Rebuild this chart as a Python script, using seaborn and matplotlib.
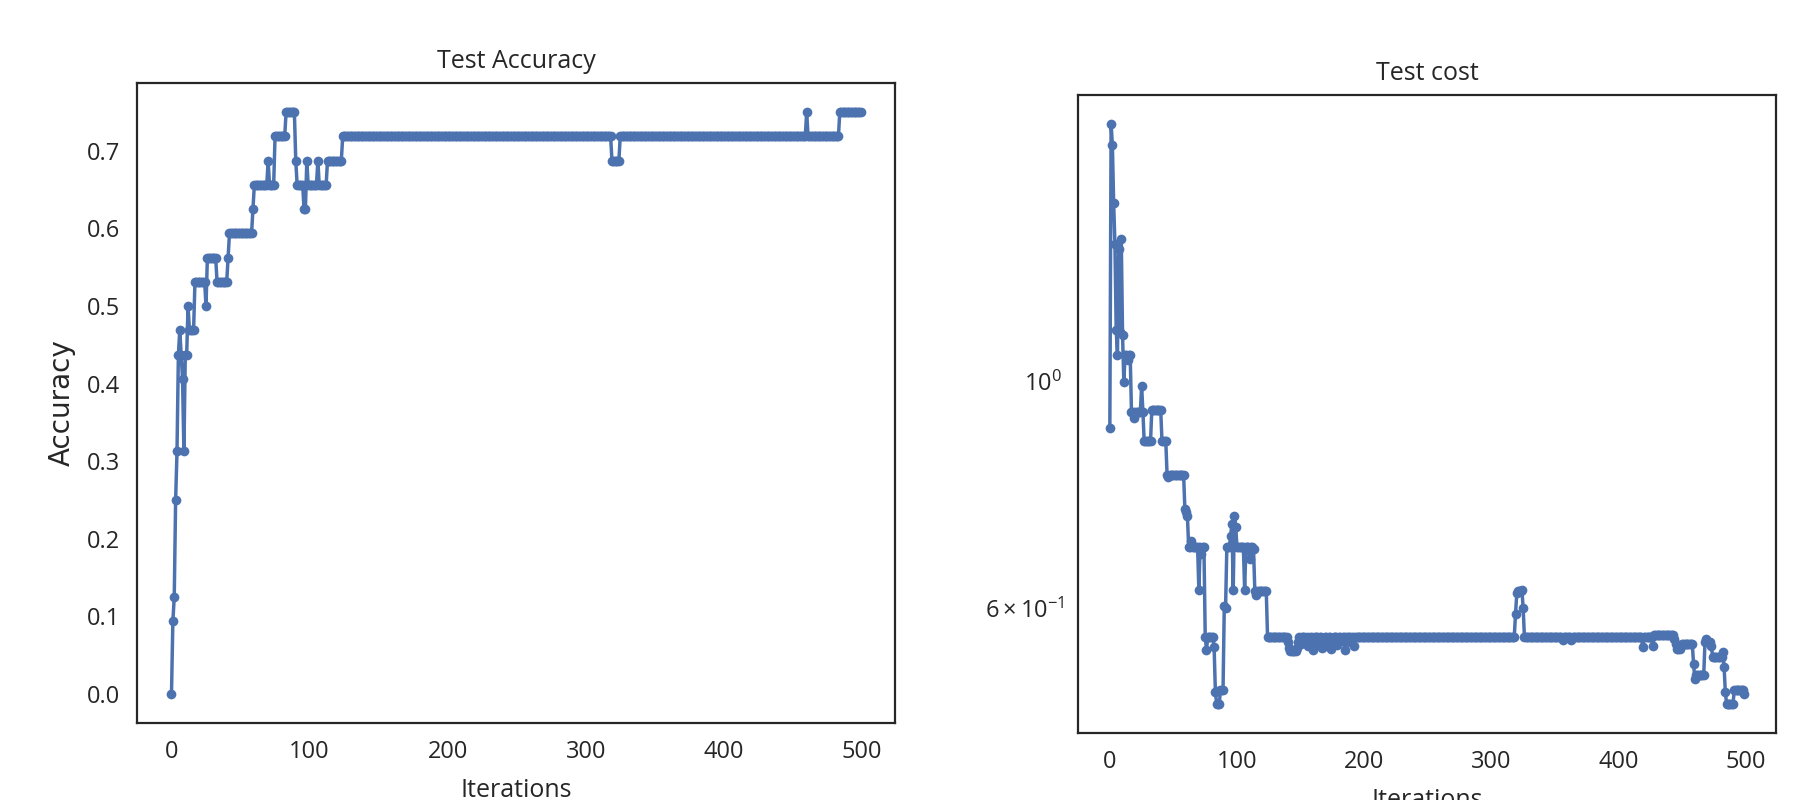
import numpy as np
import pandas as pd
import matplotlib
matplotlib.use("Agg")
import matplotlib.pyplot as plt
import seaborn as sns

# ---------------- data (run-length encoded step series) ----------------
acc_values = [0.0, 0.09375, 0.125, 0.25, 0.3125, 0.4375, 0.46875, 0.4375, 0.40625, 0.3125,
              0.4375, 0.5, 0.46875, 0.53125, 0.5, 0.5625, 0.53125, 0.5625, 0.59375, 0.625,
              0.65625, 0.6875, 0.65625, 0.71875, 0.75, 0.6875, 0.65625, 0.625, 0.6875, 0.65625,
              0.6875, 0.65625, 0.6875, 0.71875, 0.6875, 0.71875, 0.75, 0.71875, 0.75]
acc_counts = [1, 1, 1, 1, 1, 1, 1, 1, 1, 1,
              2, 1, 4, 8, 1, 7, 8, 1, 17, 1,
              10, 1, 4, 8, 7, 1, 5, 2, 1, 7,
              1, 6, 11, 195, 6, 135, 1, 23, 16]

cost_values = [0.900, 1.790, 1.708, 1.498, 1.364, 1.124, 1.063, 1.350, 1.120, 1.379,
               1.111, 1.000, 1.063, 1.050, 1.063, 0.935, 0.922, 0.935, 0.990, 0.935,
               0.874, 0.939, 0.874, 0.811, 0.806, 0.811, 0.750, 0.745, 0.738, 0.688,
               0.698, 0.688, 0.625, 0.688, 0.678, 0.688, 0.562, 0.546, 0.562, 0.549,
               0.496, 0.483, 0.498, 0.603, 0.600, 0.688, 0.706, 0.726, 0.625, 0.738,
               0.720, 0.688, 0.625, 0.688, 0.670, 0.688, 0.685, 0.624, 0.618, 0.624,
               0.562,
               0.555, 0.548, 0.545, 0.548, 0.556, 0.562, 0.553, 0.562, 0.556, 0.562,
               0.550, 0.562, 0.557, 0.562, 0.546, 0.562, 0.553, 0.562, 0.548, 0.556,
               0.562, 0.551, 0.562, 0.547, 0.558, 0.562, 0.552, 0.562, 0.557, 0.562,
               0.546, 0.562, 0.556, 0.562, 0.551,
               0.562, 0.592, 0.620, 0.623, 0.625, 0.600, 0.562, 0.558, 0.562, 0.558,
               0.562, 0.549, 0.562, 0.550, 0.564, 0.560, 0.553, 0.547, 0.551, 0.553,
               0.529, 0.511, 0.516, 0.556, 0.559, 0.555, 0.551, 0.537, 0.543, 0.525,
               0.496, 0.483, 0.498, 0.494]
cost_counts = [1, 1, 1, 1, 1, 1, 1, 1, 1, 1,
               1, 1, 2, 1, 2, 2, 1, 5, 1, 1,
               6, 8, 4, 1, 1, 12, 1, 1, 1, 2,
               1, 5, 1, 1, 1, 2, 1, 1, 5, 1,
               1, 3, 3, 1, 1, 3, 1, 1, 1, 1,
               1, 6, 1, 3, 1, 2, 1, 1, 1, 8,
               16,
               1, 1, 5, 1, 1, 1, 1, 3, 1, 1,
               1, 1, 1, 1, 1, 3, 1, 2, 1, 1,
               2, 1, 2, 1, 1, 3, 1, 2, 1, 2,
               1, 3, 1, 2, 1,
               126, 1, 1, 3, 1, 1, 30, 1, 6, 1,
               55, 1, 7, 1, 16, 1, 1, 3, 1, 9,
               1, 1, 7, 1, 1, 3, 1, 8, 1, 1,
               1, 6, 8, 1]

accuracy = np.repeat(acc_values, acc_counts)
cost = np.repeat(cost_values, cost_counts)
assert len(accuracy) == 500, len(accuracy)
assert len(cost) == 500, len(cost)
iterations = np.arange(len(accuracy))

df_acc = pd.DataFrame({"Iterations": iterations, "Accuracy": accuracy})
df_cost = pd.DataFrame({"Iterations": iterations, "Cost": cost})

# ---------------- style ----------------
sns.set_theme(style="white")
plt.rcParams["font.family"] = ["Open Sans", "DejaVu Sans"]
plt.rcParams["mathtext.fontset"] = "custom"
plt.rcParams["mathtext.rm"] = "Open Sans"
plt.rcParams["mathtext.it"] = "Open Sans:italic"
plt.rcParams["axes.edgecolor"] = "#262626"
plt.rcParams["axes.linewidth"] = 1.6

color = "#4c72b0"
fs_tick = 17
fs_title = 18
fs_label = 18

fig = plt.figure(figsize=(18.15, 8), dpi=100)
ax1 = fig.add_axes([0.0755, 0.09625, 0.4176, 0.8])
ax2 = fig.add_axes([0.594, 0.08375, 0.3846, 0.7975])

sns.lineplot(data=df_acc, x="Iterations", y="Accuracy", ax=ax1, color=color,
             marker="o", markersize=7, markeredgewidth=0, linewidth=2.5)
ax1.set_title("Test Accuracy", fontsize=fs_title, pad=11)
ax1.set_xlabel("Iterations", fontsize=fs_label, labelpad=10)
ax1.set_ylabel("Accuracy", fontsize=20, family=["DejaVu Sans"], labelpad=8)
ax1.tick_params(labelsize=fs_tick, pad=6)

ax2.set_yscale("log")
sns.lineplot(data=df_cost, x="Iterations", y="Cost", ax=ax2, color=color,
             marker="o", markersize=7, markeredgewidth=0, linewidth=2.5)
ax2.set_title("Test cost", fontsize=fs_title, pad=11)
ax2.set_xlabel("Iterations", fontsize=fs_label, labelpad=10)
ax2.set_ylabel("")
ax2.tick_params(labelsize=fs_tick, which="both", pad=6)

fig.savefig("out.png", dpi=100)
